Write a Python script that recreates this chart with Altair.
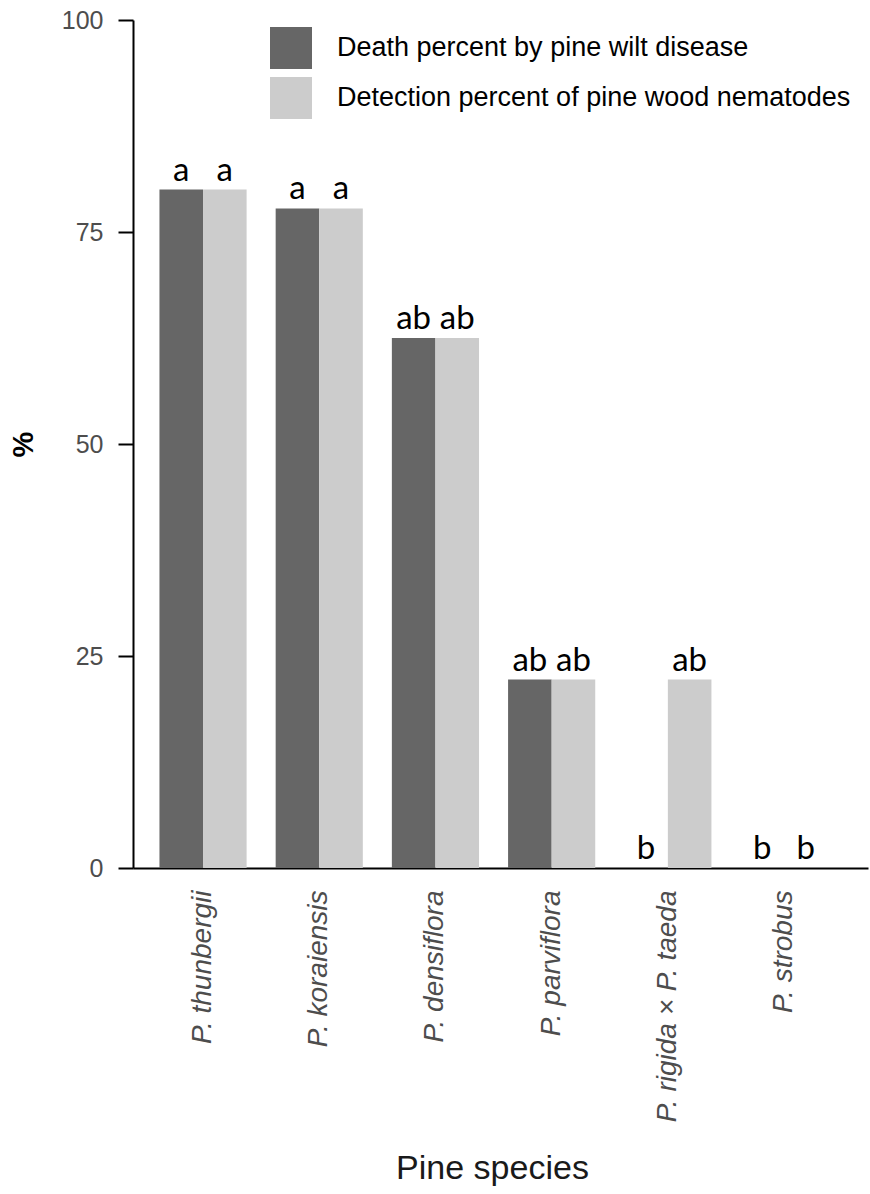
import altair as alt
import pandas as pd

species = ["P. thunbergii", "P. koraiensis", "P. densiflora", "P. parviflora",
           "P. rigida × P. taeda", "P. strobus"]
series = ["Death percent by pine wilt disease", "Detection percent of pine wood nematodes"]
death = [80.0, 77.78, 62.5, 22.22, 0.0, 0.0]
detection = [80.0, 77.78, 62.5, 22.22, 22.22, 0.0]
death_letters = ["a", "a", "ab", "ab", "b", "b"]
detection_letters = ["a", "a", "ab", "ab", "ab", "b"]
colors = ["#666666", "#cccccc"]

rows = []
for i, sp in enumerate(species):
    rows.append({"species": sp, "series": series[0], "value": death[i], "letter": death_letters[i]})
    rows.append({"species": sp, "series": series[1], "value": detection[i], "letter": detection_letters[i]})
df = pd.DataFrame(rows)

x_enc = alt.X("species:N", sort=species, title="Pine species",
              scale=alt.Scale(paddingInner=0.25, paddingOuter=0.2875, align=0.396),
              axis=alt.Axis(labelAngle=270, labelFontStyle="italic", labelFontSize=28,
                            labelColor="#4d4d4d", labelFont="Liberation Sans", labelPadding=22,
                            labelLimit=400, ticks=False, domainColor="#000000", domainWidth=2,
                            titleFont="Liberation Sans", titleFontSize=34, titleFontWeight="normal",
                            titleColor="#1a1a1a", titleX=359, titleY=310, titleBaseline="alphabetic",
                            titleAnchor="start", titleAlign="center"))
xoff = alt.XOffset("series:N", sort=series, scale=alt.Scale(paddingInner=0, paddingOuter=0))
y_enc = alt.Y("value:Q", title="%",
              scale=alt.Scale(domain=[0, 100], nice=False, zero=True),
              axis=alt.Axis(values=[0, 25, 50, 75, 100], grid=False, tickSize=15, tickWidth=2,
                            tickColor="#000000", domainColor="#000000", domainWidth=2,
                            labelFontSize=25, labelColor="#4d4d4d", labelFont="Liberation Sans",
                            labelPadding=15, titleFont="Liberation Sans", titleFontSize=29,
                            titleFontWeight="bold", titleColor="#000000", titleAngle=270,
                            titleX=-110, titleY=424, titleAlign="center", titleBaseline="middle"))

bars = alt.Chart(df).mark_bar().encode(
    x=x_enc, xOffset=xoff, y=y_enc,
    color=alt.Color("series:N", sort=series,
                    scale=alt.Scale(domain=series, range=colors),
                    legend=alt.Legend(title=None, orient="none", legendX=137, legendY=7,
                                      symbolType="square", symbolSize=1764, symbolStrokeWidth=0,
                                      symbolOpacity=1, labelFontSize=27, labelColor="#000000",
                                      labelFont="Liberation Sans", labelOffset=25, rowPadding=8,
                                      labelLimit=700))
)

text = alt.Chart(df).mark_text(baseline="alphabetic", dy=-9, fontSize=33, font="Lato",
                               color="#000000").encode(
    x=alt.X("species:N", sort=species), xOffset=xoff, y="value:Q", text="letter:N"
)

chart = alt.layer(bars, text).properties(
    width=735, height=848,
    padding={"left": 133, "top": 20, "right": 2, "bottom": 326},
    autosize=alt.AutoSizeParams(type="none"),
).configure_view(stroke=None)

chart.save("out.html", embed_options={"renderer": "svg", "actions": False})
